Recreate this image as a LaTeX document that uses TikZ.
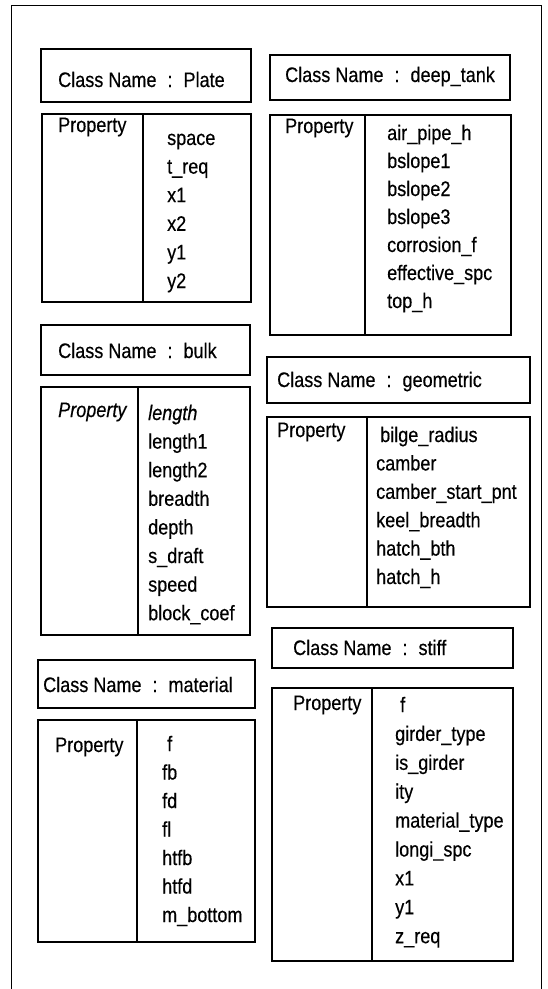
\documentclass[tikz,border=0pt]{standalone}
\usepackage{fontspec}
\setmainfont{Liberation Sans}[FakeStretch=0.86,FakeBold=0.4]
\newcommand{\clsep}{\hspace{11pt}:\hspace{11pt}}

\begin{document}
\begin{tikzpicture}[x=1pt,y=-1pt,
    boxline/.style={line width=1.3pt},
    txt/.style={anchor=base west,inner sep=0pt,font=\fontsize{21}{24}\selectfont}]
    \useasboundingbox (0,0) rectangle (548,989);

    % outer frame (open at the bottom)
    \draw[line width=0.9pt] (11,989) -- (11,5) -- (541,5) -- (541,989);

    % Plate
    \draw[boxline] (41,49) rectangle (251,102);
    \node[txt] (plate-title) at (58,87) {Class Name\clsep Plate};
    \draw[boxline] (42,114) rectangle (251,302);
    \draw[boxline] (143,114) -- (143,302);
    \node[txt] (plate-prop) at (58,132) {Property};
    \foreach \t [count=\i] in {space,t\_req,x1,x2,y1,y2}
        \node[txt] (plate-\i) at (167,{145+28.6*(\i-1)}) {\t};

    % deep_tank
    \draw[boxline] (270,55) rectangle (510,100);
    \node[txt] (tank-title) at (285,82) {Class Name\clsep deep\_tank};
    \draw[boxline] (270,115) rectangle (511,335);
    \draw[boxline] (365,115) -- (365,335);
    \node[txt] (tank-prop) at (285,133) {Property};
    \foreach \t [count=\i] in {air\_pipe\_h,bslope1,bslope2,bslope3,corrosion\_f,effective\_spc,top\_h}
        \node[txt] (tank-\i) at (387,{140+28*(\i-1)}) {\t};

    % bulk
    \draw[boxline] (41,325) rectangle (250,375);
    \node[txt] (bulk-title) at (58,358) {Class Name\clsep bulk};
    \draw[boxline] (41,387) rectangle (250,635);
    \draw[boxline] (138,387) -- (138,635);
    \node[txt] (bulk-prop) at (58,417) {\itshape Property};
    \foreach \t [count=\i] in {\itshape length,length1,length2,breadth,depth,s\_draft,speed,block\_coef}
        \node[txt] (bulk-\i) at (148,{420+28.6*(\i-1)}) {\t};

    % geometric
    \draw[boxline] (267,357) rectangle (530,403);
    \node[txt] (geom-title) at (277,387) {Class Name\clsep geometric};
    \draw[boxline] (267,417) rectangle (530,607);
    \draw[boxline] (367,417) -- (367,607);
    \node[txt] (geom-prop) at (277,437) {Property};
    \foreach \t [count=\i] in {\hspace{4pt}bilge\_radius,camber,camber\_start\_pnt,keel\_breadth,hatch\_bth,hatch\_h}
        \node[txt] (geom-\i) at (376,{442+28.4*(\i-1)}) {\t};

    % material
    \draw[boxline] (38,660) rectangle (255,708);
    \node[txt] (mat-title) at (43,692) {Class Name\clsep material};
    \draw[boxline] (38,720) rectangle (255,942);
    \draw[boxline] (137,720) -- (137,942);
    \node[txt] (mat-prop) at (55,752) {Property};
    \foreach \t [count=\i] in {\hspace{5pt}f,fb,fd,fl,htfb,htfd,m\_bottom}
        \node[txt] (mat-\i) at (162,{751+28.5*(\i-1)}) {\t};

    % stiff
    \draw[boxline] (272,628) rectangle (513,668);
    \node[txt] (stiff-title) at (293,655) {Class Name\clsep stiff};
    \draw[boxline] (272,688) rectangle (513,961);
    \draw[boxline] (372,688) -- (372,961);
    \node[txt] (stiff-prop) at (293,710) {Property};
    \foreach \t [count=\i] in {\hspace{5pt}f,girder\_type,is\_girder,ity,material\_type,longi\_spc,x1,y1,z\_req}
        \node[txt] (stiff-\i) at (395,{712+28.9*(\i-1)}) {\t};
\end{tikzpicture}
\end{document}
